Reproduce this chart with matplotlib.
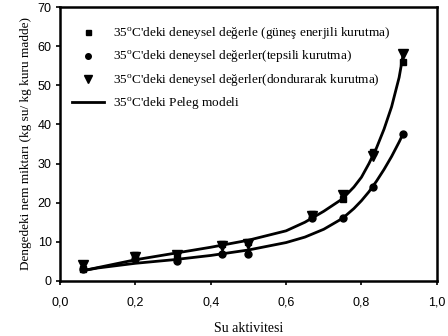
import matplotlib
matplotlib.use("Agg")
import matplotlib.pyplot as plt
from matplotlib.ticker import FixedLocator, FixedFormatter

plt.rcParams['mathtext.fontset'] = 'custom'
plt.rcParams['mathtext.rm'] = 'Liberation Serif'

# ── DATA ──────────────────────────────────────────────────────────────────────
aw_points = [0.06, 0.20, 0.31, 0.43, 0.50, 0.67, 0.75, 0.83, 0.91]
gunes = [3.0, 6.5, 6.0, 9.5, 10.0, 17.0, 21.0, 33.0, 56.0]
tepsi = [3.0, 5.5, 5.0, 7.0, 7.0, 16.0, 16.0, 24.0, 37.5]
donduru = [4.0, 6.0, 6.5, 9.0, 9.5, 16.5, 22.0, 32.0, 58.0]

aw_model = [0.06, 0.10, 0.20, 0.30, 0.40, 0.50, 0.60, 0.65, 0.70, 0.75, 0.78,
            0.80, 0.82, 0.84, 0.86, 0.88, 0.90, 0.91]
peleg_upper = [2.6, 3.4, 5.4, 7.0, 8.6, 10.4, 12.8, 15.0, 17.8, 21.0, 24.0,
               26.5, 30.0, 34.0, 38.8, 44.5, 52.0, 57.5]
peleg_lower = [2.6, 3.3, 4.5, 5.4, 6.5, 7.9, 9.8, 11.2, 13.2, 16.0, 18.5,
               20.5, 22.8, 25.5, 28.5, 31.8, 35.5, 37.5]

x_ticks = [0.0, 0.2, 0.4, 0.6, 0.8, 1.0]
x_ticklabels = ["0,0", "0,2", "0,4", "0,6", "0,8", "1,0"]
y_ticks = [0, 10, 20, 30, 40, 50, 60, 70]

labels = [
    "35$^{\\rm o}$C'deki deneysel değerle (güneş enerjili kurutma)",
    "35$^{\\rm o}$C'deki deneysel değerler(tepsili kurutma)",
    "35$^{\\rm o}$C'deki deneysel değerler(dondurarak kurutma)",
    "35$^{\\rm o}$C'deki Peleg modeli",
]

# ── PLOT ──────────────────────────────────────────────────────────────────────
fig = plt.figure(figsize=(4.48, 3.36), dpi=100)
ax = fig.add_axes([0.134, 0.164, 0.841, 0.815])

ax.plot(aw_model, peleg_upper, color='black', lw=2.0, zorder=2, label=labels[3])
ax.plot(aw_model, peleg_lower, color='black', lw=2.0, zorder=2)

h1, = ax.plot(aw_points, gunes, 's', color='black', ms=4.5, ls='none', label=labels[0])
h2, = ax.plot(aw_points, tepsi, 'o', color='black', ms=5, ls='none', label=labels[1])
h3, = ax.plot(aw_points, donduru, 'v', color='black', ms=6.5, ls='none', label=labels[2])
h4 = ax.get_lines()[0]

ax.set_xlim(0, 1.0)
ax.set_ylim(0, 70)
ax.xaxis.set_major_locator(FixedLocator(x_ticks))
ax.xaxis.set_major_formatter(FixedFormatter(x_ticklabels))
ax.set_yticks(y_ticks)
ax.tick_params(direction='out', length=3, width=1.2, labelsize=9, pad=3)
ax.tick_params(axis='x', pad=8)
for lbl in ax.get_xticklabels() + ax.get_yticklabels():
    lbl.set_family('Liberation Sans')
for sp in ax.spines.values():
    sp.set_linewidth(1.8)

ax.set_xlabel("Su aktivitesi", family='Liberation Serif', fontsize=10, labelpad=10)
ax.set_ylabel("Dengedeki nem miktarı (kg su/ kg kuru madde)", family='Liberation Serif',
              fontsize=9.5, labelpad=4)

leg = ax.legend([h1, h2, h3, h4], labels, loc='upper left', bbox_to_anchor=(0.0, 0.975),
                frameon=False, prop={'family': 'Liberation Serif', 'size': 9.5},
                handlelength=2.4, labelspacing=0.55, handletextpad=0.7, markerscale=0.8)

fig.savefig("out.png", dpi=100)
